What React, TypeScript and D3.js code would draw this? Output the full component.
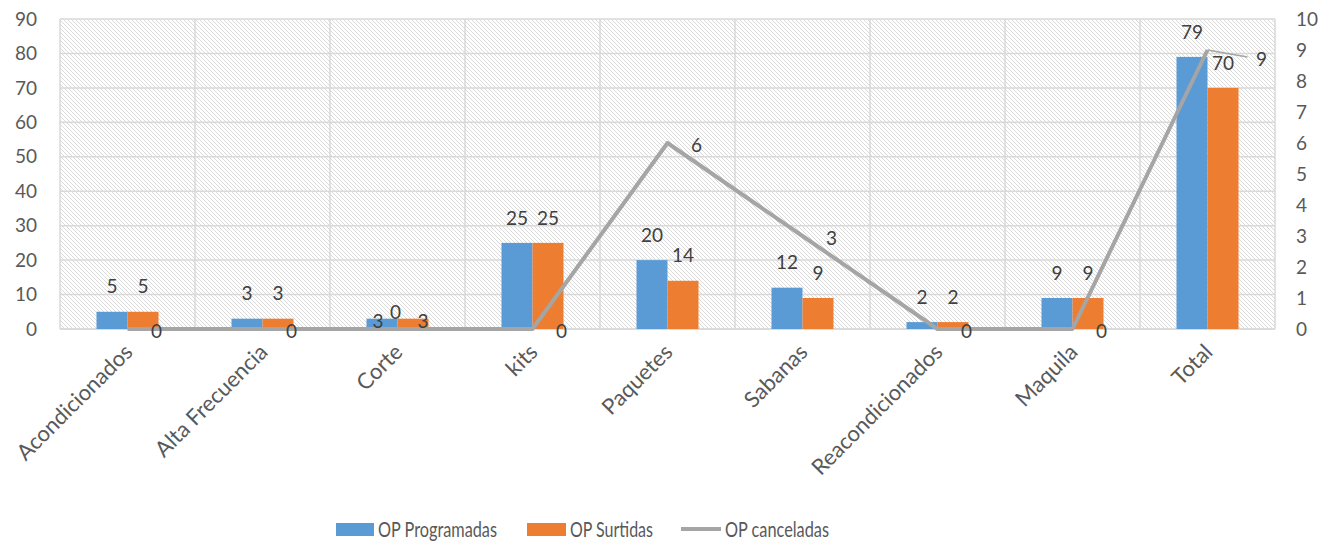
import React from "react";
import * as d3 from "d3";

const categories = ["Acondicionados", "Alta Frecuencia", "Corte", "kits", "Paquetes", "Sabanas", "Reacondicionados", "Maquila", "Total"];
const programadas = [5, 3, 3, 25, 20, 12, 2, 9, 79];
const surtidas = [5, 3, 3, 25, 14, 9, 2, 9, 70];
const canceladas = [0, 0, 0, 0, 6, 3, 0, 0, 9];
const leftTicks = [0, 10, 20, 30, 40, 50, 60, 70, 80, 90];
const rightTicks = [0, 1, 2, 3, 4, 5, 6, 7, 8, 9, 10];
const seriesNames = ["OP Programadas", "OP Surtidas", "OP canceladas"];

const W = 1323, H = 541;
const L = 60, R = 1275, T = 19, B = 329;
const BLUE = "#5b9bd5", ORANGE = "#ed7d31", GRAY = "#a5a5a5";
const GRID = "#d9d9d9", TXT = "#595959", LBL = "#404040";
const FONT = "Lato, 'Open Sans', sans-serif";

export default function App() {
  const x = d3.scaleBand<string>().domain(categories).range([L, R]).paddingInner(0).paddingOuter(0);
  const y = d3.scaleLinear().domain([0, 90]).range([B, T]);
  const y2 = d3.scaleLinear().domain([0, 10]).range([B, T]);
  const groupW = 62;
  const sub = d3.scaleBand<string>().domain(["p", "s"]).range([0, groupW]);
  const cx = (c: string) => (x(c) as number) + x.bandwidth() / 2;
  const line = d3.line<number>().x((_, i) => cx(categories[i])).y((v) => y2(v));

  const boundaries = categories.map((c) => x(c) as number).concat([R]);

  return (
    <svg width={W} height={H} style={{ position: "absolute", left: 0, top: 0, background: "#fff" }} fontFamily={FONT}>
      <defs>
        <pattern id="hatch" width="4" height="4" patternUnits="userSpaceOnUse">
          <rect width="4" height="4" fill="#fff" />
          <path d="M-1,-1 L5,5 M-1,3 L1,5 M3,-1 L5,1" stroke="#dadada" strokeWidth="1" />
        </pattern>
      </defs>
      <rect x={L} y={T} width={R - L} height={B - T} fill="url(#hatch)" />
      {leftTicks.map((t) => (
        <line key={"h" + t} x1={L} x2={R} y1={y(t)} y2={y(t)} stroke={GRID} strokeWidth={1.5} />
      ))}
      {boundaries.map((bx, i) => (
        <line key={"v" + i} x1={bx} x2={bx} y1={T} y2={B} stroke={GRID} strokeWidth={1.5} />
      ))}
      <line x1={L} x2={R} y1={B} y2={B} stroke={GRID} strokeWidth={1.5} />

      {leftTicks.map((t) => (
        <text key={"lt" + t} x={37} y={y(t)} dy="0.35em" textAnchor="end" fontSize={19} fill={TXT}>{t}</text>
      ))}
      {rightTicks.map((t) => (
        <text key={"rt" + t} x={1296} y={y2(t)} dy="0.35em" textAnchor="start" fontSize={19} fill={TXT}>{t}</text>
      ))}

      {categories.map((c, i) => {
        const gx = cx(c) - groupW / 2;
        return (
          <g key={"b" + c}>
            <rect x={gx + (sub("p") as number)} y={y(programadas[i])} width={sub.bandwidth()} height={B - y(programadas[i])} fill={BLUE} />
            <rect x={gx + (sub("s") as number)} y={y(surtidas[i])} width={sub.bandwidth()} height={B - y(surtidas[i])} fill={ORANGE} />
          </g>
        );
      })}

      <path d={line(canceladas) || ""} fill="none" stroke={GRAY} strokeWidth={4} strokeLinejoin="round" />
      <line x1={cx("Total")} y1={y2(canceladas[8])} x2={cx("Total") + 40} y2={y2(canceladas[8]) + 7} stroke={GRAY} strokeWidth={1.5} />

      {categories.map((c, i) => {
        const gx = cx(c) - groupW / 2;
        const isCorte = c === "Corte";
        const px = gx + (sub("p") as number) + sub.bandwidth() / 2;
        const sx = gx + (sub("s") as number) + sub.bandwidth() / 2;
        const pY = isCorte ? y(programadas[i]) + 3 : y(programadas[i]) - 25;
        const sY = isCorte ? y(surtidas[i]) + 3 : y(surtidas[i]) - 25;
        return (
          <g key={"l" + c} fontSize={19} fill={LBL} textAnchor="middle">
            <text x={isCorte ? px - 4 : px} y={pY} dy="0.35em">{programadas[i]}</text>
            <text x={isCorte ? sx + 10 : sx} y={sY} dy="0.35em">{surtidas[i]}</text>
          </g>
        );
      })}
      {categories.map((c, i) => {
        const px = cx(c), py = y2(canceladas[i]);
        let lx = px + 29, ly = py + 2;
        if (c === "Corte") { lx = px - 2; ly = py - 17; }
        if (c === "Total") { lx = px + 54; ly = py + 9; }
        return (
          <text key={"ll" + c} x={lx} y={ly} dy="0.35em" textAnchor="middle" fontSize={19} fill={LBL}>{canceladas[i]}</text>
        );
      })}

      {categories.map((c) => (
        <text key={"x" + c} transform={`translate(${cx(c) + 1},${348}) rotate(-45)`} dy="0.35em" textAnchor="end" fontSize={22} fill={TXT}>{c}</text>
      ))}

      <g fontSize={21} fill={TXT}>
        <rect x={336} y={523} width={38} height={13} fill={BLUE} />
        <text x={378} y={530} dy="0.35em" textLength={119} lengthAdjust="spacingAndGlyphs">{seriesNames[0]}</text>
        <rect x={527} y={523} width={39} height={13} fill={ORANGE} />
        <text x={570} y={530} dy="0.35em" textLength={83} lengthAdjust="spacingAndGlyphs">{seriesNames[1]}</text>
        <line x1={681} x2={721} y1={529} y2={529} stroke={GRAY} strokeWidth={4} />
        <text x={725} y={530} dy="0.35em" textLength={104} lengthAdjust="spacingAndGlyphs">{seriesNames[2]}</text>
      </g>
    </svg>
  );
}
